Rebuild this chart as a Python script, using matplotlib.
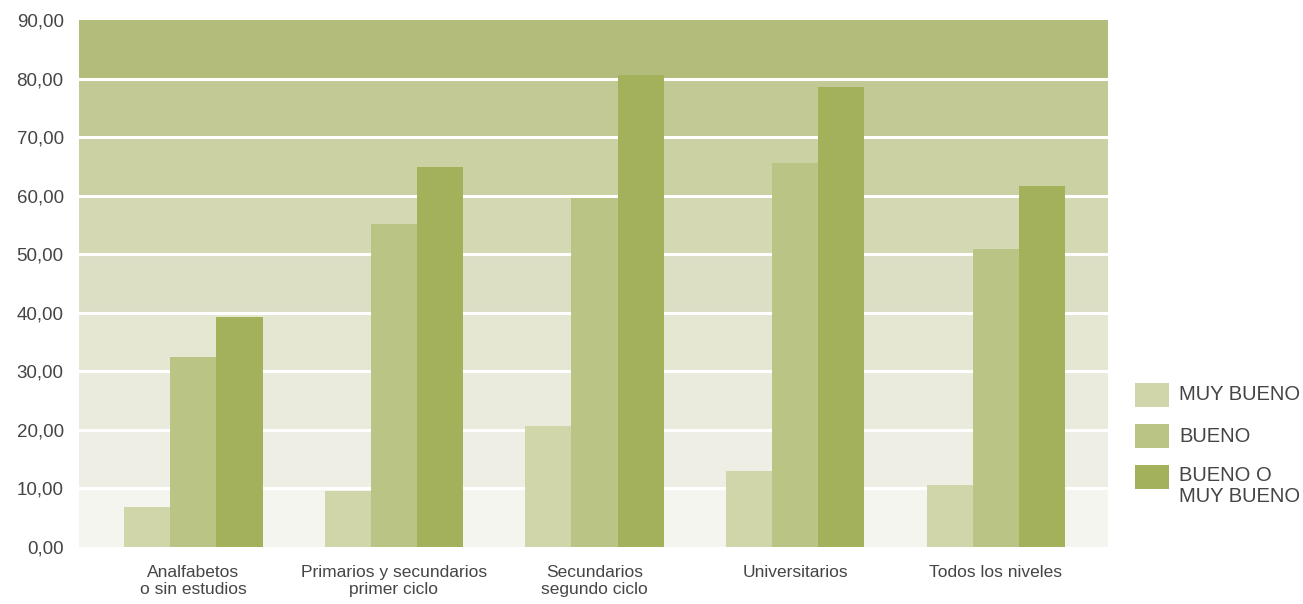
import matplotlib
matplotlib.use("Agg")
import matplotlib.pyplot as plt
import numpy as np

categories = ['Analfabetos\no sin estudios', 'Primarios y secundarios\nprimer ciclo',
              'Secundarios\nsegundo ciclo', 'Universitarios', 'Todos los niveles']
series = ['MUY BUENO', 'BUENO', 'BUENO O\nMUY BUENO']
muy_bueno = [6.8, 9.6, 20.7, 13.0, 10.6]
bueno = [32.4, 55.2, 59.6, 65.6, 50.9]
bueno_o_muy_bueno = [39.3, 64.9, 80.6, 78.5, 61.6]
values = [muy_bueno, bueno, bueno_o_muy_bueno]

bar_colors = ['#d0d6aa', '#bac485', '#a3b15a']
band_colors = ['#f4f5ef', '#eeeee5', '#eaebdd', '#e5e7d3', '#dcdfc4',
               '#d4d8b3', '#ccd1a3', '#c3c994', '#b3bc7a']
text_color = '#454545'

plt.rcParams['font.family'] = ['Liberation Sans', 'DejaVu Sans']

fig = plt.figure(figsize=(13.03, 6.04), dpi=100)
ax = fig.add_axes([0.0606, 0.0944, 0.7898, 0.8725])

# graded background bands with white separators
for i, c in enumerate(band_colors):
    ax.axhspan(i * 10, (i + 1) * 10, color=c, zorder=0, lw=0)
for y in range(10, 90, 10):
    ax.axhline(y, color='white', lw=2.2, zorder=1)

x = np.arange(len(categories))
w = 0.23
for k, (vals, col) in enumerate(zip(values, bar_colors)):
    ax.bar(x + (k - 1) * w, vals, width=w, color=col, zorder=2, lw=0)

ax.set_xlim(-0.57, 4.56)
ax.set_ylim(0, 90)
ax.set_yticks(np.arange(0, 91, 10))
ax.set_yticklabels([f'{v:.2f}'.replace('.', ',') for v in np.arange(0, 91, 10)],
                   fontsize=13.5, color=text_color)
ax.set_xticks(x)
ax.set_xticklabels(categories, fontsize=12.5, color=text_color, linespacing=1.2)
ax.tick_params(axis='y', length=0, pad=11)
ax.tick_params(axis='x', length=0, pad=13)
for s in ax.spines.values():
    s.set_visible(False)

# legend on the right, drawn in pixel positions of the figure
W, H = 1303.0, 604.0
box_tops = [383, 424, 465]
for name, col, top in zip(series, bar_colors, box_tops):
    fig.patches.append(plt.Rectangle((1135 / W, 1 - (top + 24) / H), 34 / W, 24 / H,
                                     transform=fig.transFigure, color=col, lw=0))
    if '\n' in name:
        fig.text(1179 / W, 1 - (top + 1) / H, name, fontsize=14.5, color=text_color,
                 va='top', ha='left', linespacing=1.15)
    else:
        fig.text(1179 / W, 1 - (top + 12) / H, name, fontsize=14.5, color=text_color,
                 va='center', ha='left')

fig.savefig('out.png', dpi=100)
